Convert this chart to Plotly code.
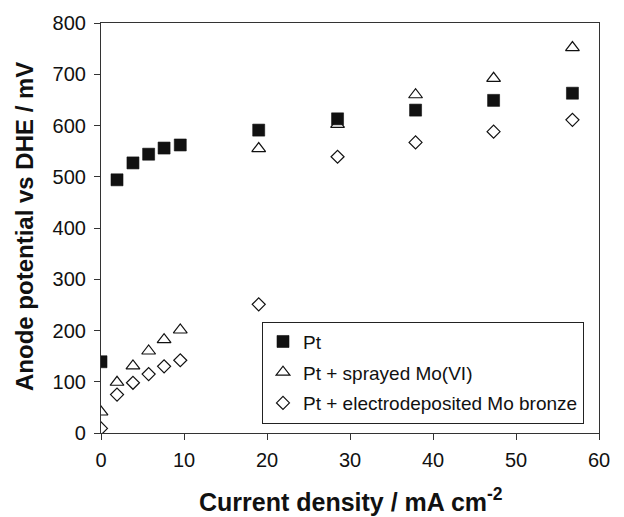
import plotly.graph_objects as go

current_density = [0, 1.93, 3.85, 5.74, 7.6, 9.55, 19.0, 28.5, 37.9, 47.3, 56.8]
pt = [139, 494, 527, 544, 556, 562, 591, 613, 630, 649, 663]
pt_sprayed = [41, 99, 131, 160, 182, 201, 555, 602, 660, 692, 752]
pt_electro = [9, 75, 98, 115, 130, 142, 251, 539, 567, 588, 611]

series_names = ["Pt", "Pt + sprayed Mo(VI)", "Pt + electrodeposited Mo bronze"]
x_ticks = [0, 10, 20, 30, 40, 50, 60]
y_ticks = [0, 100, 200, 300, 400, 500, 600, 700, 800]

FONT = "Liberation Sans, Arial, Helvetica, sans-serif"

fig = go.Figure()
fig.add_trace(go.Scatter(
    x=current_density, y=pt, mode="markers", name=series_names[0],
    legendgroup="a",
    marker=dict(symbol="square", size=12, color="#111111",
                line=dict(width=0.6, color="#111111")),
))
fig.add_trace(go.Scatter(
    x=current_density, y=pt_sprayed, mode="markers", name=series_names[1],
    legendgroup="b",
    marker=dict(symbol="triangle-up-open", size=12, color="#111111",
                line=dict(width=1.2, color="#111111")),
))
fig.add_trace(go.Scatter(
    x=current_density, y=pt_electro, mode="markers", name=series_names[2],
    legendgroup="c",
    marker=dict(symbol="diamond-open", size=10, color="#111111",
                line=dict(width=1.2, color="#111111")),
))

axis_common = dict(
    showgrid=False, zeroline=False, showline=True, linecolor="#333333",
    linewidth=1.2, mirror=True, ticks="outside", ticklen=6,
    tickcolor="#333333", tickwidth=1.2,
    tickfont=dict(family=FONT, size=20, color="#111111"),
)

fig.update_xaxes(range=[0, 60], tickvals=x_ticks, ticktext=[str(v) for v in x_ticks],
                 ticklabelstandoff=3, **axis_common)
fig.update_yaxes(range=[0, 800], tickvals=y_ticks, ticktext=[str(v) for v in y_ticks],
                 ticklabelstandoff=4, **axis_common)

fig.add_annotation(
    text="<b>Anode potential vs DHE / mV</b>", textangle=-90,
    xref="paper", yref="paper", x=(24 - 101) / 498, y=(433 - 224) / 416,
    xanchor="center", yanchor="middle", showarrow=False,
    font=dict(family=FONT, size=24, color="#111111"),
)
fig.add_annotation(
    text="<b>Current density / mA cm<sup>-2</sup></b>",
    xref="paper", yref="paper", x=(351 - 101) / 498, y=(433 - 501) / 416,
    xanchor="center", yanchor="middle", showarrow=False,
    font=dict(family=FONT, size=25, color="#111111"),
)

fig.update_layout(
    width=624, height=517,
    margin=dict(l=101, r=25, t=17, b=84),
    paper_bgcolor="white", plot_bgcolor="white",
    showlegend=True,
    legend=dict(
        x=(262 - 101) / 498, y=(433 - 320) / 416, xanchor="left", yanchor="top",
        bgcolor="white", bordercolor="#222222", borderwidth=1,
        font=dict(family=FONT, size=19, color="#111111"),
        tracegroupgap=3, itemwidth=30,
    ),
)

fig.write_html("out.html")
